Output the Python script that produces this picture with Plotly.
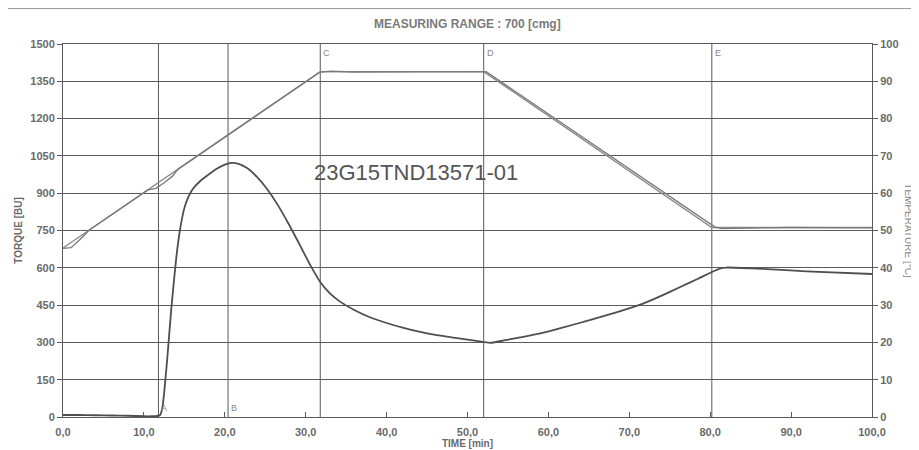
import plotly.graph_objects as go

# ---------------- data ----------------
torque_time = [0, 2, 4, 6, 8, 10, 11, 11.6, 12.0, 12.3, 12.6, 12.9, 13.4, 14.0, 14.5, 15.0,
               15.5, 16.0, 17.0, 18.0, 19.0, 20.0, 20.8, 21.8, 22.8, 24.0, 25.2, 26.5, 28.0,
               29.3, 30.5, 31.8, 33.0, 34.2, 36.0, 38.0, 40.0, 42.1, 44.0, 46.2, 48.5, 51.1,
               52.8, 54.5, 56.5, 59.0, 61.4, 65.1, 68.5, 71.7, 74.0, 76.3, 78.5, 80.2, 81.2,
               82.0, 85.7, 91.9, 100]
torque_bu = [8, 8, 7, 6, 5, 3, 3, 4, 8, 40, 130, 240, 441, 640, 760, 840,
             885, 915, 950, 975, 998, 1015, 1022, 1017, 1000, 965, 918, 855, 770,
             690, 615, 543, 497, 465, 430, 400, 378, 358, 343, 329, 318, 306,
             298, 308, 320, 336, 356, 390, 422, 456, 488, 523, 556, 583, 597,
             601, 597, 586, 575]

temp_set_time = [0, 31.8, 52.0, 80.2, 100]
temp_set_c = [45.3, 92.6, 92.6, 50.8, 50.8]

temp_act_time = [0, 1.0, 2.0, 3.3, 10.5, 11.5, 12.5, 13.5, 14.2, 31.7, 33.0, 36.0,
                 52.3, 80.6, 81.4, 83.0, 90.0, 100]
temp_act_c = [45.2, 45.4, 47.4, 50.2, 60.9, 61.3, 62.8, 64.5, 66.4, 92.4, 92.7, 92.5,
              92.6, 50.9, 50.5, 50.6, 50.8, 50.7]

event_labels = ["A", "B", "C", "D", "E"]
event_times = [11.8, 20.4, 31.8, 52.0, 80.2]

x_ticks = [0, 10, 20, 30, 40, 50, 60, 70, 80, 90, 100]
x_tick_text = ["0,0", "10,0", "20,0", "30,0", "40,0", "50,0", "60,0", "70,0", "80,0", "90,0", "100,0"]
torque_ticks = [0, 150, 300, 450, 600, 750, 900, 1050, 1200, 1350, 1500]
temp_ticks = [0, 10, 20, 30, 40, 50, 60, 70, 80, 90, 100]

sample_id = "23G15TND13571-01"
title_text = "MEASURING RANGE : 700 [cmg]"

# ---------------- style ----------------
GRID = "#5a5a5a"
TXT = "#6a6a6a"
FONT_N = "Liberation Sans Narrow, Liberation Sans, Arial Narrow, sans-serif"
TICKFONT = dict(family=FONT_N, size=11, color=TXT, weight="bold")

fig = go.Figure()

fig.add_trace(go.Scatter(x=temp_set_time, y=temp_set_c, yaxis="y2", mode="lines",
                         line=dict(color="#8a8a8a", width=1.4), hoverinfo="skip", showlegend=False))
fig.add_trace(go.Scatter(x=temp_act_time, y=temp_act_c, yaxis="y2", mode="lines",
                         line=dict(color="#7a7a7a", width=1.4), hoverinfo="skip", showlegend=False))
fig.add_trace(go.Scatter(x=torque_time, y=torque_bu, mode="lines",
                         line=dict(color="#4f4f4f", width=1.8, shape="spline", smoothing=0.5),
                         hoverinfo="skip", showlegend=False))

# event lines
for lab, t in zip(event_labels, event_times):
    fig.add_shape(type="line", xref="x", yref="paper", x0=t, x1=t, y0=0, y1=1,
                  line=dict(color=GRID, width=1), layer="below")
    top = lab in ("C", "D", "E")
    fig.add_annotation(x=t, xref="x", y=0.995 if top else 0.005, yref="paper",
                       text=lab, showarrow=False, xanchor="left", xshift=1,
                       yanchor="top" if top else "bottom",
                       font=dict(family="Liberation Sans, sans-serif", size=9, color="#888888"))

# top border line of the sheet
fig.add_shape(type="line", xref="paper", yref="paper", x0=-0.07, x1=1.06,
              y0=1.095, y1=1.095, line=dict(color="#9a9a9a", width=1))

fig.add_annotation(x=43.6, y=984, xref="x", yref="y", text=sample_id, showarrow=False,
                   font=dict(family="Liberation Sans, Arial, sans-serif", size=22, color="#555555"))

fig.add_annotation(x=0.5, y=1.053, xref="paper", yref="paper", text=title_text,
                   showarrow=False, yanchor="middle",
                   font=dict(family=FONT_N, size=12, color="#7a7a7a", weight="bold"))

fig.add_annotation(x=1.054, y=0.5, xref="paper", yref="paper", text="TEMPERATURE [°C]",
                   textangle=90, showarrow=False,
                   font=dict(family=FONT_N, size=10, color="#888888"))

# the page body adds an 8 px offset, so the figure is 8 px smaller than the window
fig.update_layout(
    width=911, height=442,
    margin=dict(l=55, r=47, t=36, b=33, autoexpand=False),
    paper_bgcolor="white", plot_bgcolor="white",
    xaxis=dict(range=[0, 100], tickvals=x_ticks, ticktext=x_tick_text, automargin=False,
               showgrid=False, zeroline=False, showline=True, linecolor=GRID, linewidth=1,
               mirror=True, ticks="inside", ticklen=5, tickcolor=GRID,
               tickfont=TICKFONT, ticklabelstandoff=5,
               title=dict(text="TIME [min]", standoff=0,
                          font=dict(family=FONT_N, size=10, color=TXT, weight="bold"))),
    yaxis=dict(range=[0, 1500], tickvals=torque_ticks, showgrid=True, gridcolor=GRID,
               gridwidth=1, zeroline=False, showline=True, linecolor=GRID, linewidth=1,
               ticks="outside", ticklen=5, tickcolor=GRID, automargin=False,
               tickfont=TICKFONT,
               title=dict(text="TORQUE [BU]", standoff=5,
                          font=dict(family=FONT_N, size=10, color=TXT, weight="bold"))),
    yaxis2=dict(range=[0, 100], tickvals=temp_ticks, overlaying="y", side="right",
                showgrid=False, zeroline=False, showline=True, linecolor=GRID, linewidth=1,
                ticks="outside", ticklen=5, tickcolor=GRID, automargin=False,
                tickfont=TICKFONT),
)

fig.write_html("out.html")
